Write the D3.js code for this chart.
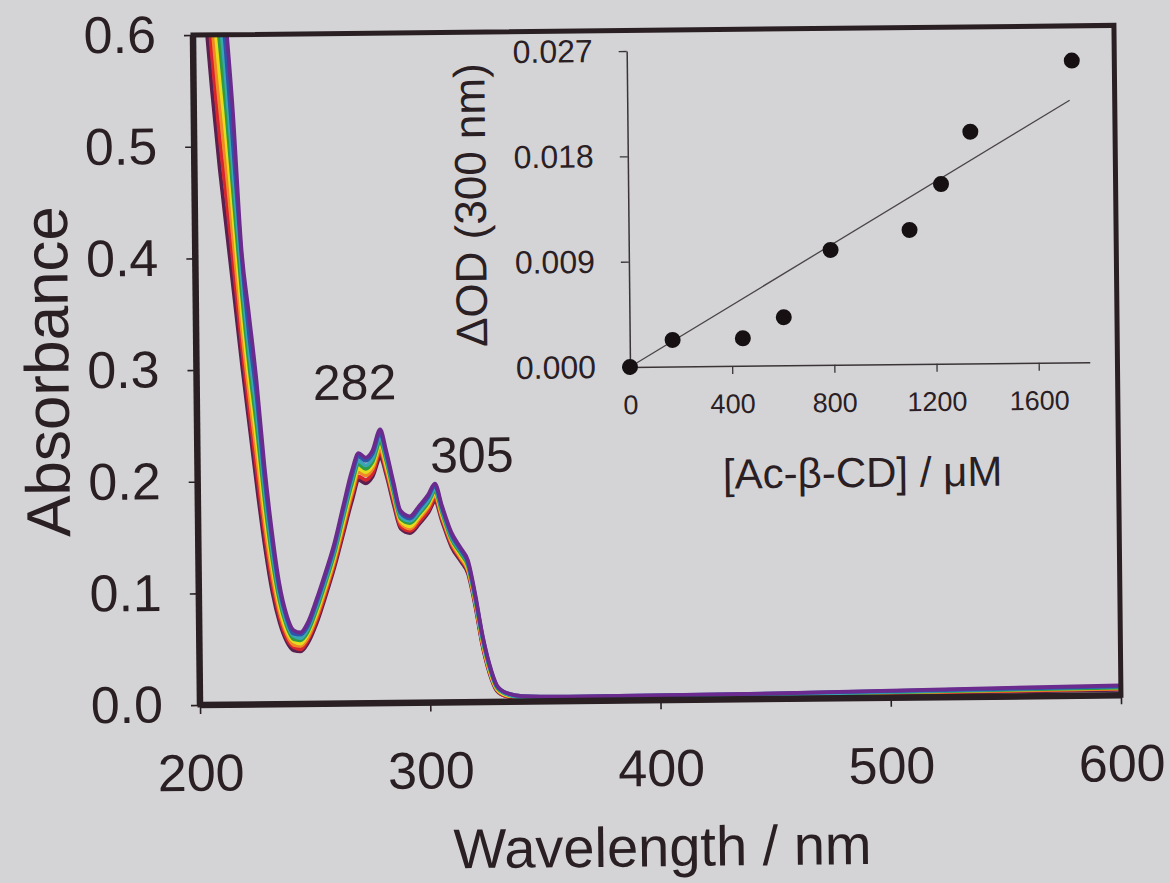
<!DOCTYPE html>
<html><head><meta charset="utf-8">
<script src="https://cdn.jsdelivr.net/npm/d3@7"></script>
<style>
html,body{margin:0;padding:0;background:#d4d4d6;}
svg{display:block;font-family:"Liberation Sans",Arial,Helvetica,sans-serif;}
</style>
</head><body>
<svg id="chart" width="1169" height="883"></svg>
<script>
// ---------- data ----------
const wavelengths = [205,208,211,214,217,220,223,226,229,232,235,238,241,244,247,251,255,259,263,267,270,273,276,279.5,282,285,288,292,296,300,303,306,310,314,317,320,323,326,329,333,340,360,450,600];
const absC0 = [.63,.55,.48,.42,.36,.30,.245,.19,.14,.100,.073,.056,.048,.047,.054,.072,.096,.122,.152,.182,.200,.197,.203,.220,.204,.178,.156,.152,.160,.170,.180,.162,.139,.126,.115,.086,.050,.025,.010,.005,.003,.002,.003,.005];
const absC1 = [.676,.586,.511,.449,.383,.317,.259,.204,.151,.108,.078,.059,.051,.049,.057,.075,.099,.125,.155,.186,.203,.200,.206,.224,.207,.181,.158,.154,.162,.172,.182,.164,.141,.128,.117,.088,.051,.026,.011,.005,.003,.002,.003,.006];
const absC2 = [.721,.621,.543,.477,.406,.334,.274,.219,.161,.116,.083,.063,.053,.052,.059,.078,.102,.128,.159,.189,.207,.204,.210,.227,.210,.184,.161,.156,.165,.175,.185,.166,.143,.129,.118,.089,.053,.027,.011,.006,.004,.003,.004,.006];
const absC3 = [.767,.657,.574,.506,.429,.351,.288,.233,.172,.124,.088,.066,.056,.054,.062,.081,.105,.131,.162,.193,.210,.207,.213,.231,.213,.187,.163,.158,.167,.177,.187,.168,.145,.131,.120,.091,.054,.028,.012,.006,.004,.003,.004,.007];
const absC4 = [.813,.693,.606,.534,.451,.369,.302,.247,.183,.131,.093,.070,.058,.057,.064,.084,.108,.134,.166,.197,.214,.210,.216,.234,.217,.189,.165,.161,.169,.179,.189,.170,.146,.133,.122,.092,.056,.030,.013,.007,.004,.003,.004,.007];
const absC5 = [.859,.729,.637,.563,.474,.386,.316,.261,.194,.139,.098,.073,.061,.059,.067,.087,.111,.137,.169,.201,.217,.213,.219,.238,.220,.192,.167,.163,.171,.181,.191,.172,.148,.135,.124,.094,.057,.031,.014,.007,.004,.003,.004,.008];
const absC6 = [.904,.764,.669,.591,.497,.403,.331,.276,.204,.147,.103,.077,.063,.062,.069,.090,.114,.140,.173,.204,.221,.217,.223,.241,.223,.195,.170,.165,.174,.184,.194,.174,.150,.136,.125,.095,.059,.032,.014,.008,.005,.004,.005,.008];
const absC7 = [.95,.80,.70,.62,.53,.41,.35,.29,.215,.155,.108,.080,.066,.064,.072,.093,.117,.143,.176,.208,.224,.220,.226,.245,.226,.198,.172,.167,.176,.186,.196,.176,.152,.138,.127,.097,.060,.033,.015,.008,.005,.004,.005,.009];
const spectra = [absC0,absC1,absC2,absC3,absC4,absC5,absC6,absC7];

const xTicks = [200,300,400,500,600];
const yTicks = [0,0.1,0.2,0.3,0.4,0.5,0.6];

const peakNames = ["282","305"];
const peakLabelX = [268.6,319.2];
const peakLabelY = [0.272,0.206];

const insetConc = [0,168,443,604,790,1100,1225,1342,1742];
const insetDOD  = [0,0.00227,0.00235,0.00411,0.00982,0.01146,0.01535,0.0198,0.02578];
const fitConc = [0,1732];
const fitDOD  = [0,0.0224];
const insetXTicks = [0,400,800,1200,1600];
const insetYTicks = [0,0.009,0.018,0.027];

// ---------- styles ----------
const curveColors = ["#5a2150","#d8262f","#f08a24","#e6dc1e","#2f9c45","#3aa5b5","#2d55a8","#6b2a8e"];
const ink = "#2a2024";

const svg = d3.select("#chart");
svg.append("rect").attr("width",1169).attr("height",883).attr("fill","#d4d4d6");
const root = svg.append("g").attr("transform","rotate(-0.6,200,705)");

// main scales
const x = d3.scaleLinear().domain([200,600]).range([200,1121]);
const y = d3.scaleLinear().domain([0,0.6]).range([705,35]);

root.append("clipPath").attr("id","plotclip")
  .append("rect").attr("x",200).attr("y",35).attr("width",921).attr("height",670);

const line = d3.line().x((d,i)=>x(wavelengths[i])).y(d=>y(d)).curve(d3.curveMonotoneX);
const curves = root.append("g").attr("clip-path","url(#plotclip)");
spectra.forEach((s,k)=>{
  curves.append("path").attr("d",line(s)).attr("fill","none")
    .attr("stroke",curveColors[k]).attr("stroke-width",3.8).attr("stroke-linejoin","round");
});

// frame
root.append("rect").attr("x",200).attr("y",35).attr("width",921).attr("height",670)
  .attr("fill","none").attr("stroke",ink).attr("stroke-width",5);
root.append("line").attr("x1",200).attr("x2",1121).attr("y1",705).attr("y2",705).attr("stroke",ink).attr("stroke-width",6.5);
root.append("line").attr("x1",200).attr("x2",200).attr("y1",35).attr("y2",705).attr("stroke",ink).attr("stroke-width",6.5);

// main axes
const xAxis = d3.axisBottom(x).tickValues(xTicks).tickSize(9).tickSizeOuter(0).tickPadding(40).tickFormat(d3.format("d"));
const gx = root.append("g").attr("transform","translate(0,705)").call(xAxis);
const yAxis = d3.axisLeft(y).tickValues(yTicks).tickSize(9).tickSizeOuter(0).tickPadding(28).tickFormat(d3.format(".1f"));
const gy = root.append("g").attr("transform","translate(200,0)").call(yAxis);
[gx,gy].forEach(g=>{
  g.select(".domain").remove();
  g.selectAll(".tick line").attr("stroke",ink).attr("stroke-width",1.6);
  g.selectAll(".tick text").attr("fill",ink).attr("font-size",52).attr("font-family","Liberation Sans, Arial, sans-serif");
});

root.append("text").attr("x",661).attr("y",871).attr("text-anchor","middle")
  .attr("font-size",56).attr("fill",ink).text("Wavelength / nm");
root.append("text").attr("transform","translate(72,370) rotate(-90)").attr("text-anchor","middle")
  .attr("font-size",62).attr("fill",ink).text("Absorbance");

peakNames.forEach((t,i)=>{
  root.append("text").attr("x",x(peakLabelX[i])).attr("y",y(peakLabelY[i])).attr("text-anchor","middle")
    .attr("font-size",50).attr("fill",ink).text(t);
});

// ---------- inset ----------
const xi = d3.scaleLinear().domain([0,1800]).range([633.5,1093.3]);
const yi = d3.scaleLinear().domain([0,0.027]).range([371.5,55.5]);
const inset = root.append("g");

const gxi = inset.append("g").attr("transform","translate(0,371.5)")
  .call(d3.axisBottom(xi).tickValues(insetXTicks).tickSize(8).tickSizeOuter(0).tickPadding(20).tickFormat(d3.format("d")));
const gyi = inset.append("g").attr("transform","translate(633.5,0)")
  .call(d3.axisLeft(yi).tickValues(insetYTicks).tickSize(8).tickSizeOuter(0).tickPadding(26).tickFormat(d3.format(".3f")));
[gxi,gyi].forEach(g=>{
  g.select(".domain").attr("stroke","#3a3436").attr("stroke-width",1.5);
  g.selectAll(".tick line").attr("stroke","#3a3436").attr("stroke-width",1.3);
  g.selectAll(".tick text").attr("fill",ink).attr("font-family","Liberation Sans, Arial, sans-serif");
});
gxi.selectAll(".tick text").attr("font-size",27);
gyi.selectAll(".tick text").attr("font-size",32);

inset.append("path")
  .attr("d",d3.line().x((d,i)=>xi(fitConc[i])).y(d=>yi(d))(fitDOD))
  .attr("stroke","#4a4446").attr("stroke-width",1.3).attr("fill","none");

inset.selectAll("circle.pt").data(insetDOD).enter().append("circle")
  .attr("cx",(d,i)=>xi(insetConc[i])).attr("cy",d=>yi(d)).attr("r",8).attr("fill","#161012");

inset.append("text").attr("x",865).attr("y",494).attr("text-anchor","middle")
  .attr("font-size",42).attr("fill",ink).text("[Ac-β-CD] / μM");
inset.append("text").attr("transform","translate(491,208) rotate(-90)").attr("text-anchor","middle")
  .attr("font-size",44).attr("fill",ink).text("ΔOD (300 nm)");
</script>
</body></html>
